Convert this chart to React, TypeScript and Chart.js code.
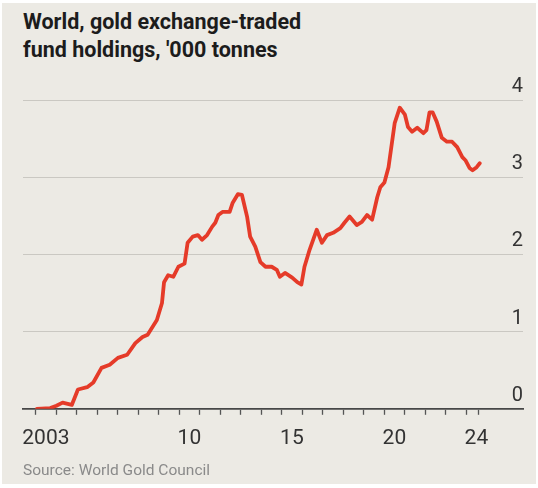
import React, { useEffect, useRef } from "react";
import { Chart, registerables } from "chart.js";

Chart.register(...registerables);

const TITLE_LINES = ["World, gold exchange-traded", "fund holdings, '000 tonnes"];
const SOURCE = "Source: World Gold Council";

// decimal years and holdings ('000 tonnes)
const YEARS = [
  2003.05, 2003.7, 2004.0, 2004.3, 2004.75, 2005.05, 2005.5, 2005.8, 2006.2, 2006.6,
  2007.0, 2007.45, 2007.85, 2008.2, 2008.45, 2008.9, 2009.15, 2009.25, 2009.45, 2009.7,
  2009.95, 2010.25, 2010.4, 2010.65, 2010.9, 2011.1, 2011.35, 2011.6, 2011.75, 2011.9,
  2012.1, 2012.45, 2012.6, 2012.85, 2013.05, 2013.3, 2013.45, 2013.7, 2013.95, 2014.2,
  2014.5, 2014.75, 2014.9, 2015.15, 2015.5, 2015.75, 2015.95, 2016.1, 2016.35, 2016.7,
  2016.95, 2017.2, 2017.5, 2017.85, 2018.05, 2018.3, 2018.65, 2018.9, 2019.15, 2019.4,
  2019.65, 2019.8, 2020.0, 2020.2, 2020.5, 2020.75, 2021.0, 2021.15, 2021.35, 2021.6,
  2021.9, 2022.05, 2022.2, 2022.35, 2022.55, 2022.8, 2023.05, 2023.3, 2023.55, 2023.8,
  2023.95, 2024.15, 2024.3, 2024.5, 2024.65,
];
const HOLDINGS = [
  0.0, 0.01, 0.04, 0.08, 0.05, 0.25, 0.28, 0.34, 0.53, 0.57,
  0.66, 0.7, 0.85, 0.93, 0.96, 1.15, 1.37, 1.64, 1.73, 1.71,
  1.84, 1.88, 2.15, 2.23, 2.25, 2.19, 2.25, 2.36, 2.41, 2.51,
  2.55, 2.55, 2.67, 2.78, 2.77, 2.49, 2.23, 2.1, 1.9, 1.84,
  1.84, 1.8, 1.71, 1.76, 1.7, 1.64, 1.61, 1.84, 2.06, 2.32,
  2.15, 2.25, 2.28, 2.34, 2.41, 2.49, 2.38, 2.42, 2.51, 2.45,
  2.74, 2.87, 2.93, 3.13, 3.7, 3.9, 3.81, 3.65, 3.59, 3.64,
  3.57, 3.61, 3.84, 3.84, 3.72, 3.51, 3.46, 3.46, 3.39, 3.26,
  3.22, 3.12, 3.09, 3.13, 3.18,
];

const X_MIN = 2002.37;
const X_MAX = 2026.76;
const TICK_YEARS = [
  2003, 2004, 2005, 2006, 2007, 2008, 2009, 2010, 2011, 2012, 2013, 2014,
  2015, 2016, 2017, 2018, 2019, 2020, 2021, 2022, 2023, 2024, 2024.6,
];
const LABEL_YEARS = [2003, 2010, 2015, 2020, 2024];
const LABEL_TEXTS = ["2003", "10", "15", "20", "24"];
const Y_TICKS = [0, 1, 2, 3, 4];

const FONT = "Roboto, 'Noto Sans', sans-serif";

export default function App() {
  const ref = useRef<HTMLCanvasElement | null>(null);

  useEffect(() => {
    if (!ref.current) return;
    const chart = new Chart(ref.current, {
      type: "line",
      data: {
        datasets: [
          {
            data: YEARS.map((x, i) => ({ x, y: HOLDINGS[i] })),
            borderColor: "#E53B29",
            borderWidth: 3.8,
            pointRadius: 0,
            tension: 0,
            borderJoinStyle: "round",
            borderCapStyle: "round",
            fill: false,
          },
        ],
      },
      options: {
        responsive: false,
        animation: false,
        devicePixelRatio: 1,
        layout: { padding: { left: 23, right: 15, top: 100, bottom: 26 } },
        plugins: { legend: { display: false }, tooltip: { enabled: false } },
        scales: {
          x: {
            type: "linear",
            min: X_MIN,
            max: X_MAX,
            afterBuildTicks: (scale: any) => {
              scale.ticks = TICK_YEARS.map((v) => ({ value: v }));
            },
            ticks: {
              autoSkip: false,
              maxRotation: 0,
              minRotation: 0,
              labelOffset: 10,
              padding: 11,
              color: "#333333",
              font: { family: FONT, size: 21 },
              callback: (v: any) => {
                const i = LABEL_YEARS.indexOf(Number(v));
                return i >= 0 ? LABEL_TEXTS[i] : "";
              },
            },
            grid: {
              drawOnChartArea: false,
              drawTicks: true,
              tickLength: 6,
              tickColor: "#555555",
              tickWidth: 1.3,
            },
            border: { display: true, color: "#474747", width: 1.8 },
          },
          y: {
            type: "linear",
            position: "right",
            min: 0,
            max: 4,
            afterBuildTicks: (scale: any) => {
              scale.ticks = Y_TICKS.map((v) => ({ value: v }));
            },
            ticks: {
              mirror: true,
              padding: 0,
              labelOffset: -13,
              color: "#333333",
              font: { family: FONT, size: 20 },
              callback: (v: any) => String(v),
            },
            grid: { color: "#CAC8C2", lineWidth: 1, drawTicks: false },
            border: { display: false },
          },
        },
      },
    });
    return () => chart.destroy();
  }, []);

  return (
    <div
      style={{
        position: "fixed",
        left: 0,
        top: 0,
        width: 538,
        height: 488,
        background: "#ffffff",
        overflow: "hidden",
      }}
    >
      <div
        style={{
          position: "absolute",
          left: 2,
          top: 3,
          right: 2,
          bottom: 4,
          background: "#ECEAE4",
        }}
      />
      <div
        style={{
          position: "absolute",
          left: 23,
          top: 8,
          fontFamily: FONT,
          fontWeight: 700,
          fontSize: 21.5,
          lineHeight: "28px",
          color: "#1c1c1c",
          whiteSpace: "nowrap",
        }}
      >
        {TITLE_LINES.map((t) => (
          <div key={t}>{t}</div>
        ))}
      </div>
      <canvas
        ref={ref}
        width={538}
        height={488}
        style={{ position: "absolute", left: 0, top: 0, width: 538, height: 488 }}
      />
      <div
        style={{
          position: "absolute",
          left: 23,
          top: 461,
          fontFamily: FONT,
          fontSize: 15.5,
          lineHeight: "18px",
          color: "#8a8a8a",
          whiteSpace: "nowrap",
        }}
      >
        {SOURCE}
      </div>
    </div>
  );
}
